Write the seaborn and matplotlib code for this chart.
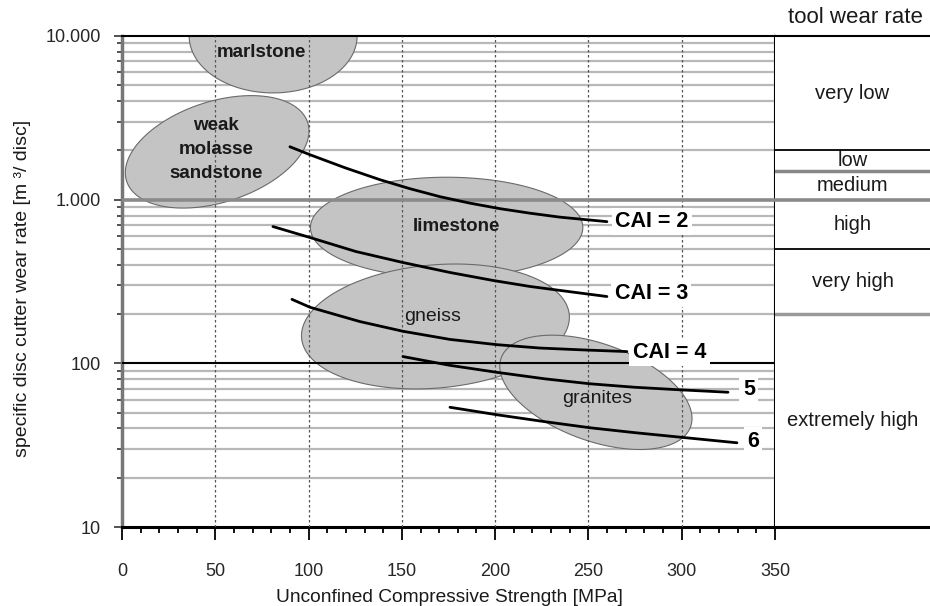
import numpy as np
import pandas as pd
import matplotlib
matplotlib.use("Agg")
import matplotlib.pyplot as plt
import matplotlib.ticker as mticker
import seaborn as sns

# ---------------- data ----------------
cai_labels = ["CAI = 2", "CAI = 3", "CAI = 4", "5", "6"]
cai2_ucs = [90.0, 100.8, 119.5, 138.3, 154.3, 170.4, 186.5, 202.6, 218.6, 234.7, 259.9]
cai2_rate = [2105, 1881, 1567, 1324, 1167, 1043, 952, 881, 827, 782, 734]
cai3_ucs = [80.9, 100.8, 125.4, 150.6, 175.8, 198.8, 218.6, 234.7, 259.9]
cai3_rate = [685, 587, 482, 413, 359, 321, 295, 279, 256]
cai4_ucs = [91.1, 100.8, 127.5, 150.6, 175.8, 201.0, 224.0, 245.4, 270.6]
cai4_rate = [246, 220, 180, 157, 140, 130, 124, 121, 118]
cai5_ucs = [150.6, 175.8, 201.0, 226.7, 250.8, 274.9, 299.0, 324.8]
cai5_rate = [110, 97.2, 88.1, 80.4, 75.0, 71.4, 68.9, 66.6]
cai6_ucs = [175.8, 201.0, 226.7, 250.8, 274.9, 299.0, 329.6]
cai6_rate = [53.9, 48.5, 44.0, 40.4, 37.7, 35.4, 32.7]

rock_names = ["marlstone", "weak\nmolasse\nsandstone", "limestone", "gneiss", "granites"]
rock_center_ucs = [81, 51, 174, 168, 254]
rock_center_rate = [10000, 1960, 675, 168, 66.5]
rock_semi_major = [45, 51, 73, 72, 54]     # MPa-equivalent
rock_semi_minor = [30.5, 27, 27, 33, 26]
rock_angle = [0, 18, 0, 5, -20]             # degrees

wear_classes = ["very low", "low", "medium", "high", "very high", "extremely high"]
wear_bounds = [10000, 2000, 1500, 1000, 500, 200, 10]

y_ticks = [10, 100, 1000, 10000]
y_tick_labels = ["10", "100", "1.000", "10.000"]
x_ticks = [0, 50, 100, 150, 200, 250, 300, 350]

# ---------------- style ----------------
sns.set_style("white")
plt.rcParams["font.family"] = ["Liberation Sans", "DejaVu Sans"]

W, H = 930, 606
fig = plt.figure(figsize=(W / 100, H / 100), dpi=100)
L, R, T, B = 122, 775, 36, 527
ax = fig.add_axes([L / W, 1 - B / H, (R - L) / W, (B - T) / H])
ax2 = fig.add_axes([R / W, 1 - B / H, (W - R) / W, (B - T) / H], sharey=ax)

ax.set_yscale("log")
ax.set_xlim(0, 350)
ax.set_ylim(10, 10000)

# minor horizontal grid
minor_vals = [m * 10 ** k for k in range(1, 4) for m in range(2, 10)]
ax.hlines(minor_vals, 0, 350, colors="#b8b8b8", lw=1.6, zorder=1)

# ellipses (built in screen-proportional space)
p0 = ax.transData.transform((0, 10))
p1 = ax.transData.transform((1, 100))
ratio = (p1[1] - p0[1]) / (p1[0] - p0[0])  # MPa-equivalents per decade
t = np.linspace(0, 2 * np.pi, 300)
for cx, cy, a, b, ang in zip(rock_center_ucs, rock_center_rate, rock_semi_major,
                             rock_semi_minor, rock_angle):
    th = np.deg2rad(ang)
    dx = a * np.cos(t) * np.cos(th) - b * np.sin(t) * np.sin(th)
    dy = a * np.cos(t) * np.sin(th) + b * np.sin(t) * np.cos(th)
    ax.fill(cx + dx, cy * 10 ** (dy / ratio), facecolor="#c4c4c4",
            edgecolor="#6a6a6a", lw=0.8, zorder=2)

# vertical dotted grid
for xv in x_ticks[1:-1]:
    ax.axvline(xv, color="#555555", lw=0.9, ls=(0, (2, 2)), zorder=3)

# decade lines
ax.axhline(1000, color="#8a8a8a", lw=2.6, zorder=3)
ax.axhline(100, color="black", lw=1.5, zorder=3)

# CAI curves
df = pd.concat([
    pd.DataFrame({"ucs": u, "rate": r, "cai": lab})
    for u, r, lab in zip([cai2_ucs, cai3_ucs, cai4_ucs, cai5_ucs, cai6_ucs],
                         [cai2_rate, cai3_rate, cai4_rate, cai5_rate, cai6_rate],
                         cai_labels)
])
sns.lineplot(data=df, x="ucs", y="rate", hue="cai", sort=False, estimator=None,
             palette={k: "black" for k in cai_labels}, legend=False, lw=2,
             ax=ax, zorder=4)

# rock labels
rock_label_pos = [(75, 7875), (50.5, 2018), (179, 684), (166.5, 194), (254.6, 61.2)]
rock_weights = ["bold", "bold", "bold", "normal", "normal"]
rock_sizes = [13.5, 13.5, 13.5, 14, 14]
for name, (xx, yy), w, s in zip(rock_names, rock_label_pos, rock_weights, rock_sizes):
    ax.text(xx, yy, name, ha="center", va="center", fontsize=s, fontweight=w,
            color="#1a1a1a", linespacing=1.55, zorder=5)

# CAI labels
cai_label_pos = [(264.5, 735), (264, 267), (273.8, 117), (332.8, 69.3), (335, 33.4)]
for lab, (xx, yy) in zip(cai_labels, cai_label_pos):
    ax.text(xx, yy, lab, ha="left", va="center", fontsize=15.5, fontweight="bold",
            color="black", zorder=5,
            bbox=dict(facecolor="white", edgecolor="none", pad=2.5))

# axes styling
ax.set_yticks(y_ticks)
ax.set_yticklabels(y_tick_labels)
ax.yaxis.set_minor_locator(mticker.FixedLocator(minor_vals))
ax.yaxis.set_minor_formatter(mticker.NullFormatter())
ax.set_xticks(x_ticks)
ax.xaxis.set_minor_locator(mticker.MultipleLocator(10))
ax.tick_params(axis="y", which="major", direction="inout", length=12, width=1.2,
               color="#333333", labelsize=13, pad=9)
ax.tick_params(axis="y", which="minor", direction="inout", length=7, width=1.2,
               color="#333333")
ax.tick_params(axis="x", which="major", direction="out", length=9, width=1.3,
               color="black", labelsize=13, pad=17)
ax.tick_params(axis="x", which="minor", direction="out", length=4.5, width=1.3,
               color="black")
ax.tick_params(left=True, bottom=True, which="both")
ax.grid(False)

for s in ["top", "right"]:
    ax.spines[s].set_color("black")
    ax.spines[s].set_linewidth(1.5)
ax.spines["left"].set_color("#777777")
ax.spines["left"].set_linewidth(2.5)
ax.spines["bottom"].set_color("black")
ax.spines["bottom"].set_linewidth(2.2)

ax.set_xlabel("Unconfined Compressive Strength [MPa]", fontsize=13.8, va="center",
              color="#1a1a1a")
ax.xaxis.set_label_coords((449 - L) / (R - L), -(597 - B) / (B - T))
ax.set_ylabel("specific disc cutter wear rate [m ³/ disc]", fontsize=14,
              va="center", color="#1a1a1a")
ax.yaxis.set_label_coords((23 - L) / (R - L), (B - 288) / (B - T))

# right panel
ax2.set_xlim(0, 1)
ax2.tick_params(left=False, bottom=False, labelleft=False, labelbottom=False,
                which="both")
ax2.grid(False)
ax2.spines["left"].set_visible(False)
ax2.spines["right"].set_visible(False)
ax2.spines["top"].set_color("black")
ax2.spines["top"].set_linewidth(1.5)
ax2.spines["bottom"].set_color("black")
ax2.spines["bottom"].set_linewidth(2.2)
bound_styles = {2000: ("black", 1.3), 1500: ("#888888", 2.5), 1000: ("#8a8a8a", 2.6),
                500: ("black", 1.3), 200: ("#999999", 2.5)}
for bv in wear_bounds[1:-1]:
    c, lw = bound_styles[bv]
    ax2.axhline(bv, color=c, lw=lw, zorder=3)
for name, hi, lo in zip(wear_classes, wear_bounds[:-1], wear_bounds[1:]):
    ax2.text(0.5, np.sqrt(hi * lo), name, ha="center", va="center",
             fontsize=14.5, color="#1a1a1a", zorder=2)
ax2.text((855 - R) / (W - R), 1.037, "tool wear rate", transform=ax2.transAxes,
         ha="center", va="center", fontsize=16, color="#1a1a1a")

fig.savefig("out.png", dpi=100)
